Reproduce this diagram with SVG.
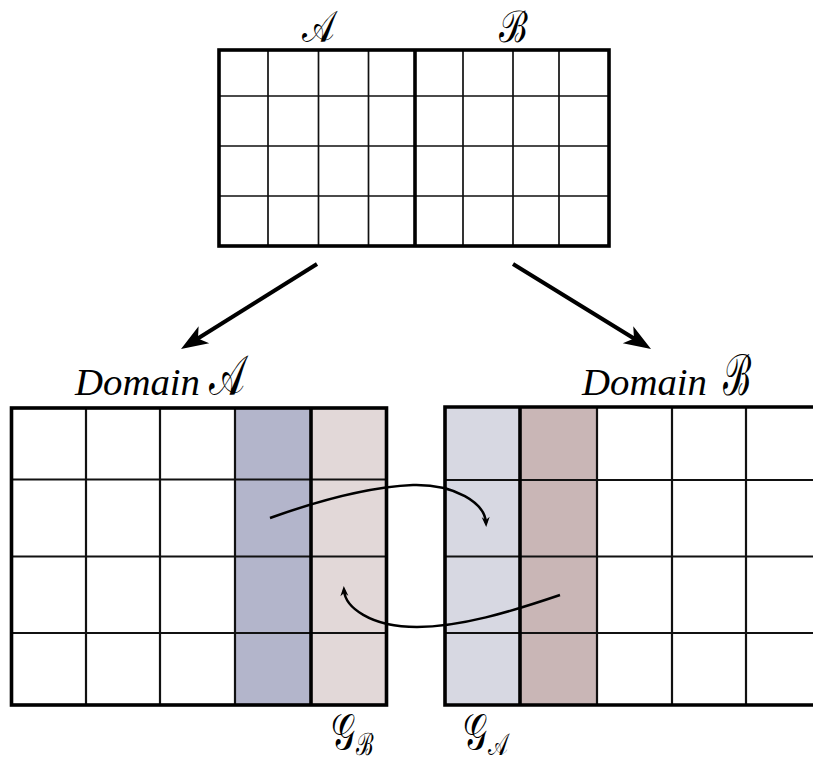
<svg xmlns="http://www.w3.org/2000/svg" width="813" height="763" viewBox="0 0 813 763">
<style>
  .thin{stroke:#111;stroke-width:1.7;fill:none}
  .mid{stroke:#111;stroke-width:2.2;fill:none}
  .thick{stroke:#000;stroke-width:3.6;fill:none}
  .lbl{font-family:"DejaVu Serif","Liberation Serif",serif;fill:#000}
  .dom{font-family:"Liberation Serif","DejaVu Serif",serif;font-style:italic;fill:#000}
  .conn{stroke:#000;fill:none}
</style>
<defs>
  <marker id="bigHead" viewBox="-36 -12 38 24" refX="-8" refY="0" markerWidth="38" markerHeight="24" markerUnits="userSpaceOnUse" orient="auto">
    <path d="M0,0 L-27,-10 L-20,0 L-27,10 Z" fill="#000"/>
  </marker>
  <marker id="smallHead" viewBox="-14 -6 16 12" refX="-4" refY="0" markerWidth="16" markerHeight="12" markerUnits="userSpaceOnUse" orient="auto">
    <path d="M0,0 L-10,-4 L-7,0 L-10,4 Z" fill="#000"/>
  </marker>
</defs>
<rect width="813" height="763" fill="#fff"/>

<g id="source-grid">
  <rect x="219" y="50" width="390" height="196" fill="#fff"/>
  <path class="thin" d="M268,50V246M318.5,50V246M368.5,50V246M463,50V246M513,50V246M559,50V246M219,96H609M219,146H609M219,196H609"/>
  <path class="thick" d="M415,50V246"/>
  <rect class="thick" x="219" y="50" width="390" height="196"/>
  <text class="lbl" transform="translate(318,42) scale(0.9,1.15)" font-size="38" text-anchor="middle">𝒜</text>
  <text class="lbl" transform="translate(513,42) scale(0.9,1.15)" font-size="38" text-anchor="middle">ℬ</text>
</g>

<g id="domain-a">
  <rect x="235" y="408" width="76" height="297" fill="#b3b5cb"/>
  <rect x="311" y="408" width="75.5" height="297" fill="#e2d8d8"/>
  <path class="mid" d="M86,408V705M160,408V705M235,408V705M11.5,479.5H386.5M11.5,556.5H386.5M11.5,633H386.5"/>
  <path class="thick" d="M311,408V705" stroke-width="4.2"/>
  <rect class="thick" x="11.5" y="408" width="375" height="297"/>
  <text class="dom" x="75" y="395" font-size="37" textLength="125" lengthAdjust="spacingAndGlyphs">Domain</text>
  <text class="lbl" transform="translate(227,395) scale(0.9,1.35)" font-size="42" text-anchor="middle">𝒜</text>
</g>

<g id="domain-b">
  <rect x="445" y="407" width="75" height="298" fill="#d7d8e2"/>
  <rect x="520" y="407" width="77" height="298" fill="#c9b6b6"/>
  <path class="mid" d="M597,407V705M672,407V705M746,407V705M445,480H813M445,556.5H813M445,633H813"/>
  <path class="thick" d="M520,407V705" stroke-width="4.2"/>
  <path class="thick" d="M813,407H445V705H813"/>
  <text class="dom" x="582" y="395" font-size="37" textLength="125" lengthAdjust="spacingAndGlyphs">Domain</text>
  <text class="lbl" transform="translate(737,395) scale(0.8,1.35)" font-size="42" text-anchor="middle">ℬ</text>
</g>

<g id="ghost-b">
  <text class="lbl" transform="translate(331,749) scale(0.95,1.4)" font-size="36">𝒢<tspan font-size="22" dy="4">ℬ</tspan></text>
</g>
<g id="ghost-a">
  <text class="lbl" transform="translate(463,749) scale(0.95,1.4)" font-size="36">𝒢<tspan font-size="22" dy="4">𝒜</tspan></text>
</g>

<g id="connectors">
  <path class="conn" stroke-width="4" d="M317,264L187.8,344.8" marker-end="url(#bigHead)"/>
  <path class="conn" stroke-width="4" d="M513,264L644.2,344.8" marker-end="url(#bigHead)"/>
  <path class="conn" stroke-width="2.5" d="M270,518C320,500 370,487 413,485C455,484 485,503 486,523" marker-end="url(#smallHead)"/>
  <path class="conn" stroke-width="2.5" d="M560,595C510,612 460,627 417,627C370,627 345,607 344,590" marker-end="url(#smallHead)"/>
</g>
</svg>
